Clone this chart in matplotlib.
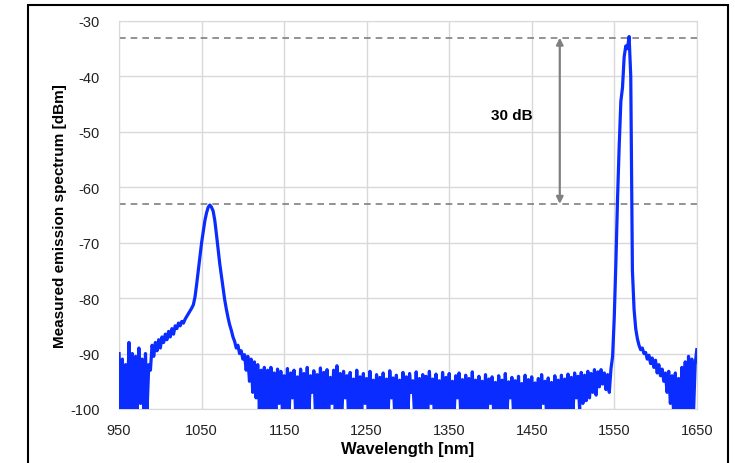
import matplotlib
matplotlib.use("Agg")
import matplotlib.pyplot as plt
import numpy as np
from matplotlib.patches import Rectangle

plt.rcParams["font.family"] = ["Liberation Sans", "DejaVu Sans"]
plt.rcParams["axes.unicode_minus"] = False

# wavelength samples, 2 nm apart
wavelength = np.arange(950, 1651, 2)

# measured power in dBm (values below -100 are clipped)
power = [
    -90, -100, -91, -101, -92, -100, -88, -101, -90, -100,            # 950
    -90.5, -100, -89, -99, -91, -101, -90, -100, -92, -93,            # 970
    -88.5, -90.5, -88, -89.5, -87.5, -89, -87, -88, -86.5, -87.5,     # 990
    -86, -87, -85.5, -86.5, -85, -85.5, -84.5, -85, -84.2, -84.5,     # 1010
    -83.8, -83.3, -82.8, -82.3, -81.8, -81.2, -79.8, -77.5, -75, -72.5,  # 1030
    -70, -68, -66, -64.6, -63.6, -63.2, -63.6, -64.3, -66, -68.5,     # 1050
    -71.2, -73.8, -76, -78.2, -80.3, -82, -83.5, -84.8, -85.8, -87,   # 1070
    -87.8, -89, -88.5, -90, -89.5, -91, -90.2, -93, -90.5, -95,       # 1090
    -91, -97, -91.5, -98, -92, -100, -93, -101, -92.5, -100,          # 1110
    -93, -101, -92.5, -100, -93.5, -101, -92.8, -99, -93.2, -101,     # 1130
    -94, -100, -92.7, -101, -93.5, -98, -93, -101, -94.2, -100,       # 1150
    -92.8, -101, -93.6, -100, -92.5, -101, -94, -97, -93.1, -101,     # 1170
    -93.8, -100, -92.6, -101, -93.4, -100, -92.9, -101, -94.3, -99,   # 1190
    -93, -101, -92.2, -100, -93.6, -101, -93.2, -98, -94, -101,       # 1210
    -93.4, -100, -94.6, -101, -93, -100, -94.2, -101, -93.6, -99,     # 1230
    -94.5, -101, -93.2, -100, -94.8, -101, -93.8, -100, -94.3, -101,  # 1250
    -93.5, -100, -94.6, -101, -93.1, -98, -94.4, -101, -93.9, -100,   # 1270
    -94.8, -101, -93.4, -100, -94.2, -101, -93.6, -97, -94.9, -101,   # 1290
    -93.3, -100, -94.5, -101, -93.8, -100, -94.1, -101, -93.2, -99,   # 1310
    -94.6, -101, -93.7, -100, -94.9, -101, -93.4, -100, -94.3, -101,  # 1330
    -93.6, -100, -95, -101, -94, -98, -93.5, -101, -94.7, -100,       # 1350
    -93.9, -101, -94.5, -100, -93.3, -101, -94.8, -100, -94.1, -101,  # 1370
    -95, -100, -93.8, -101, -94.6, -99, -94.2, -101, -95.2, -100,     # 1390
    -94, -101, -94.8, -100, -93.6, -101, -95.1, -98, -94.3, -101,     # 1410
    -94.9, -100, -94.1, -101, -95.4, -100, -93.9, -101, -94.7, -100,  # 1430
    -94.2, -101, -95.3, -100, -94.5, -101, -93.8, -99, -95, -101,     # 1450
    -94.4, -100, -95.2, -101, -94, -100, -94.8, -101, -93.9, -100,    # 1470
    -94.6, -101, -93.7, -100, -94.3, -101, -93.5, -98, -94.1, -100,   # 1490
    -93.4, -99, -93.9, -98.5, -93.2, -98, -93.6, -97, -92.9, -97.5,   # 1510
    -93.3, -96, -92.9, -95.5, -93.5, -96.5, -93.8, -97, -92.8, -90.5, # 1530
    -83.5, -73.5, -62, -52.5, -44.5, -42, -36.5, -34.5, -35, -32.8,   # 1550
    -40, -75, -82, -85.5, -87.3, -88.5, -89.3, -89, -90, -89.8,       # 1570
    -91, -90.3, -91.8, -90.8, -92.5, -91.2, -93.5, -92, -94, -92.8,   # 1590
    -95, -93.5, -97, -93.2, -99, -94, -101, -93.5, -100, -94.5,       # 1610
    -101, -92.5, -100, -91.5, -101, -90.5, -100, -91, -101, -92,      # 1630
    -89.3,                                                            # 1650
]

peak_levels = [-33, -63]
arrow_x = 1484
label_xy = (1426, -47)
x_ticks = list(range(950, 1651, 100))
y_ticks = list(range(-100, -29, 10))

fig = plt.figure(figsize=(7.35, 4.64), dpi=100)
ax = fig.add_axes([0.162, 0.1164, 0.786, 0.8362])

ax.plot(wavelength, power, color="#0a2cff", linewidth=2.3, zorder=3)

for lvl in peak_levels:
    ax.axhline(lvl, color="#808080", linestyle=(0, (4, 3)), linewidth=1.2, zorder=2)

ax.annotate("", xy=(arrow_x, peak_levels[0]), xytext=(arrow_x, peak_levels[1]),
            arrowprops=dict(arrowstyle="<|-|>", color="#808080", lw=1.6,
                            mutation_scale=10, shrinkA=0, shrinkB=0))
ax.text(label_xy[0], label_xy[1], "30 dB", fontsize=11, fontweight="bold",
        ha="center", va="center")

ax.set_xlim(950, 1650)
ax.set_ylim(-100, -30)
ax.set_xticks(x_ticks)
ax.set_yticks(y_ticks)
ax.grid(True, color="#d9d9d9", linewidth=1)
ax.set_axisbelow(True)
for s in ax.spines.values():
    s.set_color("#d9d9d9")
ax.tick_params(axis="x", length=0, labelsize=10.5, colors="#222222", pad=10)
ax.tick_params(axis="y", length=0, labelsize=10.5, colors="#222222", pad=14)

ax.set_xlabel("Wavelength [nm]", fontsize=12, fontweight="bold", labelpad=3)
ax.set_ylabel("Measured emission spectrum [dBm]", fontsize=11, fontweight="bold", labelpad=2)

# black frame around the whole chart
fig.patches.append(Rectangle((28 / 735, -0.05), 700 / 735, 1.05 - 6 / 464,
                             transform=fig.transFigure, fill=False,
                             edgecolor="black", linewidth=1.5))

fig.savefig("out.png", dpi=100)
